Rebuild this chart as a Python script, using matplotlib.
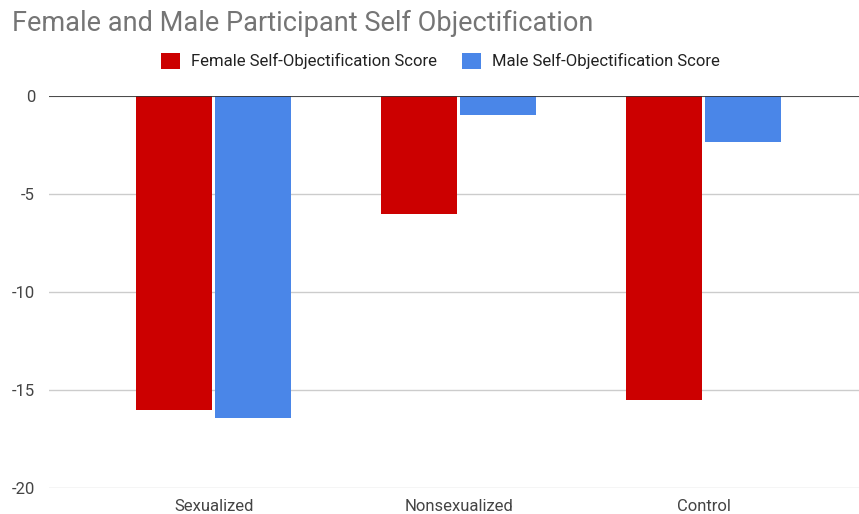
import matplotlib
matplotlib.use("Agg")
import matplotlib.pyplot as plt
import numpy as np

# categories and scores
conditions = ["Sexualized", "Nonsexualized", "Control"]
female_scores = [-16.0, -6.0, -15.5]
male_scores = [-16.4, -0.95, -2.3]
y_ticks = [0, -5, -10, -15, -20]

plt.rcParams['font.family'] = ['Roboto', 'DejaVu Sans']

fig = plt.figure(figsize=(8.59, 5.14), dpi=100)
ax = fig.add_axes([0.057, 0.0506, 0.943, 0.7617])

x = np.arange(len(conditions))
w = 0.31
gap = 0.006
ax.bar(x - w / 2 - gap, female_scores, width=w, color='#cc0000',
       label="Female Self-Objectification Score", zorder=3)
ax.bar(x + w / 2 + gap, male_scores, width=w, color='#4a86e8',
       label="Male Self-Objectification Score", zorder=3)

ax.set_xlim(-0.673, 2.633)
ax.set_ylim(-20, 0)
ax.set_yticks(y_ticks)
ax.set_yticklabels([str(t) for t in y_ticks])
ax.set_xticks(x)
ax.set_xticklabels(conditions)

ax.tick_params(axis='both', length=0, labelsize=12, colors='#444444')
ax.tick_params(axis='y', pad=10)
ax.tick_params(axis='x', pad=8)
ax.grid(axis='y', color='#cccccc', linewidth=1, zorder=0)
for s in ax.spines.values():
    s.set_visible(False)
ax.axhline(0, color='#333333', linewidth=1.2, zorder=4)

fig.text(0.014, 0.955, "Female and Male Participant Self Objectification",
         fontsize=19.5, color='#757575', va='center', ha='left')

fig.legend(loc='center', bbox_to_anchor=(0.513, 0.881), ncol=2, frameon=False,
           fontsize=12, handlelength=1.1, handleheight=1.1, columnspacing=1.5,
           handletextpad=0.7, labelcolor='#222222')

fig.savefig("out.png", dpi=100)
